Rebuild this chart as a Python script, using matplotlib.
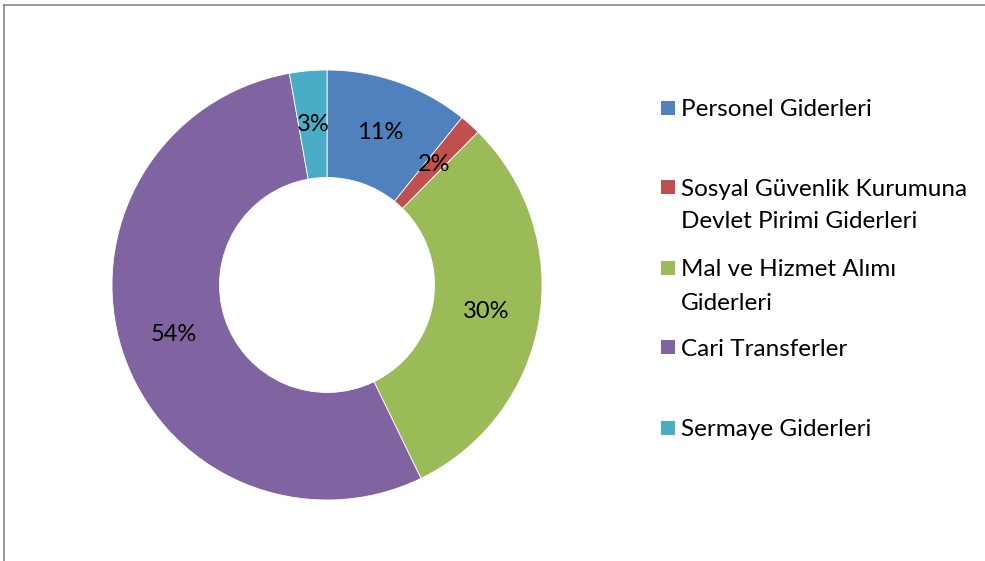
import matplotlib
matplotlib.use('Agg')
import matplotlib.pyplot as plt
from matplotlib.patches import Rectangle
from matplotlib.lines import Line2D
import numpy as np

# Veri
categories = ["Personel Giderleri",
              "Sosyal Güvenlik Kurumuna\nDevlet Pirimi Giderleri",
              "Mal ve Hizmet Alımı\nGiderleri",
              "Cari Transferler",
              "Sermaye Giderleri"]
shares = [10.8, 1.6, 30.4, 54.4, 2.8]
labels = ["11%", "2%", "30%", "54%", "3%"]
colors = ["#4F81BD", "#C0504D", "#9BBB59", "#8064A2", "#4BACC6"]

W, H = 985, 561
plt.rcParams['font.family'] = ['Lato', 'DejaVu Sans']
fig = plt.figure(figsize=(W / 100, H / 100), dpi=100)

# Halka grafik: merkez (327, 285) px, yaricap 215 px
cx, cy, r = 327, 285, 215
ax = fig.add_axes([(cx - r) / W, (H - cy - r) / H, 2 * r / W, 2 * r / H])
ax.pie(shares, colors=colors, startangle=90, counterclock=False,
       radius=1.0, wedgeprops=dict(width=0.5, edgecolor='white', linewidth=0.6))
ax.set_xlim(-1, 1)
ax.set_ylim(-1, 1)
ax.set_aspect('equal')
ax.axis('off')

# Yuzde etiketleri halkanin ortasinda
cum = np.cumsum([0] + shares)
total = cum[-1]
for i, lab in enumerate(labels):
    mid = (cum[i] + cum[i + 1]) / 2 / total * 360
    ang = np.deg2rad(90 - mid)
    ax.text(0.75 * np.cos(ang), 0.75 * np.sin(ang), lab, ha='center', va='center',
            fontsize=17, color='black')

# Lejant (elle)
legend_y = [108, 187, 268, 347, 428]
for cat, col, y in zip(categories, colors, legend_y):
    fig.patches.append(Rectangle((661 / W, (H - y - 7) / H), 14 / W, 14 / H,
                                 transform=fig.transFigure, facecolor=col,
                                 edgecolor='none'))
    for k, ln in enumerate(cat.split('\n')):
        fig.text(681 / W, (H - y - 2 - k * 33) / H, ln, ha='left', va='center',
                 fontsize=17.5, color='black')

# Cerceve (sadece ust ve sol kenar gorunur)
fig.lines.append(Line2D([4 / W, 1], [(H - 5) / H, (H - 5) / H], transform=fig.transFigure,
                        color='#868686', linewidth=1.2))
fig.lines.append(Line2D([4 / W, 4 / W], [0, (H - 5) / H], transform=fig.transFigure,
                        color='#868686', linewidth=1.2))

fig.savefig('out.png', dpi=100)
